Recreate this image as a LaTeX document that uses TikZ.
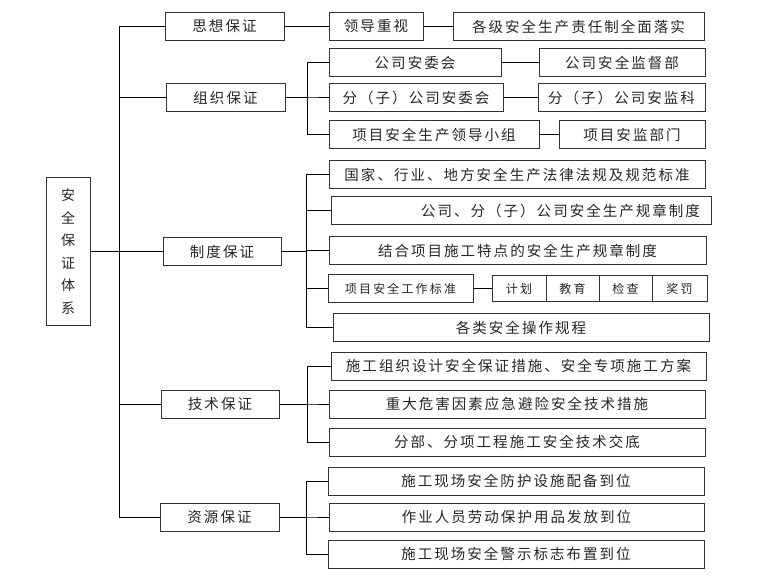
\documentclass[tikz,border=0pt]{standalone}
\usepackage{fontspec}
\newfontfamily\cjk{Noto Sans CJK SC}[LetterSpace=14]
\newfontfamily\cjksmall{Noto Sans CJK SC}[LetterSpace=18]
\begin{document}
\begin{tikzpicture}[x=1pt, y=-1pt, line width=1pt,
		box/.style={draw=black!80, inner sep=0pt, minimum height=28pt, text=black!85,
			font=\cjk\fontsize{14.5}{16}\selectfont},
		small/.style={box, font=\cjksmall\fontsize{12}{14}\selectfont}
		]
	\useasboundingbox (0,0) rectangle (760,577);
	\node [box, minimum width=44pt, minimum height=147pt, align=center,
		font=\cjk\fontsize{14}{22.5}\selectfont] (root) at (68,251.5) {安\\全\\保\\证\\体\\系};
	\node [box, minimum width=119pt] (sx) at (224.5,26.5) {思想保证};
	\node [box, minimum width=119pt] (zz) at (225.5,98) {组织保证};
	\node [box, minimum width=118pt] (zd) at (222,251.5) {制度保证};
	\node [box, minimum width=118pt] (js) at (220,404) {技术保证};
	\node [box, minimum width=119pt] (zy) at (219.5,517) {资源保证};
	\coordinate (t) at (119,251.5);
	\draw (root.east) -- (t);
	\foreach \n in {sx,zz,zd,js,zy}
		\draw (t) |- (\n.west);
	\node [box, minimum width=94pt] (ld) at (376,26.5) {领导重视};
	\node [box, minimum width=251pt] (gj) at (578.5,26.5) {各级安全生产责任制全面落实};
	\draw (sx) -- (ld) -- (gj);
	\node [box, minimum width=172pt] (gs) at (415,63) {公司安委会};
	\node [box, minimum width=166pt] (gsjd) at (622,63) {公司安全监督部};
	\node [box, minimum width=174pt] (fgs) at (416,98) {分（子）公司安委会};
	\node [box, minimum width=167pt] (fgsj) at (621.5,98) {分（子）公司安监科};
	\node [box, minimum width=210pt] (xm) at (434,135) {项目安全生产领导小组};
	\node [box, minimum width=146pt] (xmaj) at (632,135) {项目安监部门};
	\draw (gs) -- (gsjd);
	\draw (fgs) -- (fgsj);
	\draw (xm) -- (xmaj);
	\foreach \n in {gs,fgs,xm}
		\draw (zz.east) -- ++(22,0) |- (\n.west);
	\node [box, minimum width=376pt] (gz1) at (517,174.5) {国家、行业、地方安全生产法律法规及规范标准};
	\node [box, minimum width=380pt, inner xsep=11pt, text width=358pt, align=right] (gz2) at (521,211) {公司、分（子）公司安全生产规章制度};
	\node [box, minimum width=377pt] (gz3) at (517.5,250.5) {结合项目施工特点的安全生产规章制度};
	\node [small, minimum width=145pt] (gz4) at (400.5,288.5) {项目安全工作标准};
	\node [box, minimum width=376pt] (gz5) at (521,327.5) {各类安全操作规程};
	\node [small, minimum width=54pt, minimum height=26pt] (c1) at (519,288.5) {计划};
	\node [small, minimum width=53pt, minimum height=26pt] (c2) at (572.5,288.5) {教育};
	\node [small, minimum width=53pt, minimum height=26pt] (c3) at (625.5,288.5) {检查};
	\node [small, minimum width=55pt, minimum height=26pt] (c4) at (679.5,288.5) {奖罚};
	\draw (gz4) -- (c1);
	\foreach \n in {gz1,gz2,gz3,gz4,gz5}
		\draw (zd.east) -- ++(25,0) |- (\n.west);
	\node [box, minimum width=375pt] (js1) at (518.5,366) {施工组织设计安全保证措施、安全专项施工方案};
	\node [box, minimum width=376pt] (js2) at (517,404) {重大危害因素应急避险安全技术措施};
	\node [box, minimum width=376pt] (js3) at (517,442) {分部、分项工程施工安全技术交底};
	\foreach \n in {js1,js2,js3}
		\draw (js.east) -- ++(28,0) |- (\n.west);
	\node [box, minimum width=376pt] (zy1) at (516,481) {施工现场安全防护设施配备到位};
	\node [box, minimum width=375pt] (zy2) at (516.5,517) {作业人员劳动保护用品发放到位};
	\node [box, minimum width=376pt] (zy3) at (516,554) {施工现场安全警示标志布置到位};
	\foreach \n in {zy1,zy2,zy3}
		\draw (zy.east) -- ++(27,0) |- (\n.west);
\end{tikzpicture}
\end{document}
